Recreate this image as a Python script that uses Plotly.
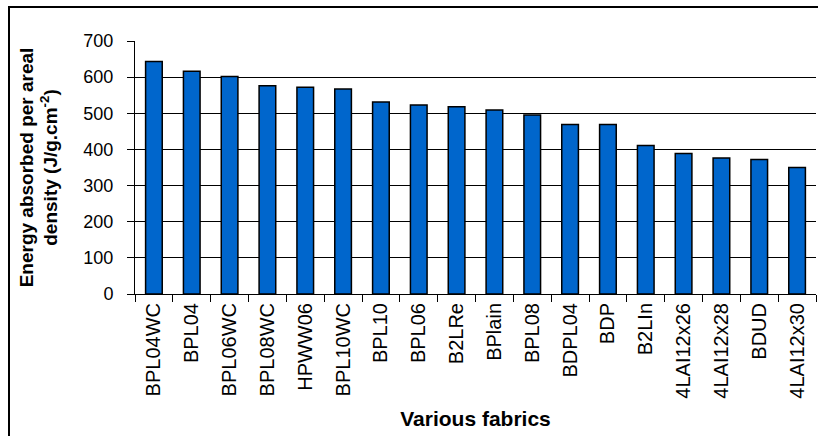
import plotly.graph_objects as go

fabrics = ["BPL04WC", "BPL04", "BPL06WC", "BPL08WC", "HPWW06", "BPL10WC", "BPL10",
           "BPL06", "B2LRe", "BPlain", "BPL08", "BDPL04", "BDP", "B2LIn",
           "4LAI12x26", "4LAI12x28", "BDUD", "4LAI12x30"]
energy = [643, 616, 602, 576, 572, 567, 531, 523, 518, 509, 495, 469, 469, 411,
          389, 376, 372, 350]
y_ticks = [0, 100, 200, 300, 400, 500, 600, 700]

W, H = 818, 436
ML, MR, MT, MB = 135, 2, 41, 142
pw, ph = W - ML - MR, H - MT - MB

fig = go.Figure(go.Bar(
    x=fabrics, y=energy,
    marker=dict(color="#0066CC", line=dict(color="black", width=1.5)),
))

font = "Arial, Liberation Sans, sans-serif"
fig.update_layout(
    width=W, height=H,
    margin=dict(l=ML, r=MR, t=MT, b=MB, pad=0),
    paper_bgcolor="white", plot_bgcolor="white",
    bargap=0.56, showlegend=False,
    font=dict(family=font, color="black", size=18),
    xaxis=dict(
        type="category", showline=True, linecolor="black", linewidth=1,
        ticks="outside", tickson="boundaries", ticklen=7, tickcolor="black",
        tickangle=-90, tickfont=dict(size=20),
        title=dict(text="<b>Various fabrics</b>", font=dict(size=21), standoff=13),
        showgrid=False,
    ),
    yaxis=dict(
        range=[0, 700], tickvals=y_ticks, showline=True, linecolor="black", linewidth=1,
        ticks="outside", ticklen=7, tickcolor="black", tickfont=dict(size=18),
        ticklabelstandoff=10,
        showgrid=True, gridcolor="black", gridwidth=1, zeroline=False,
        title=dict(text="<b>Energy absorbed per areal<br>density (J/g.cm<sup>-2</sup>)</b>",
                   font=dict(size=19), standoff=20),
    ),
)

# outer chart-area border (extends past right/bottom edges of the view)
fig.add_shape(type="rect", xref="paper", yref="paper",
              x0=(9 - ML) / pw, x1=(840 - ML) / pw,
              y0=(H - MB - 460) / ph, y1=(H - MB - 7) / ph,
              line=dict(color="black", width=2), fillcolor="rgba(0,0,0,0)", layer="above")

fig.write_html("out.html", config={"displayModeBar": False},
               post_script="document.body.style.margin='0';")
